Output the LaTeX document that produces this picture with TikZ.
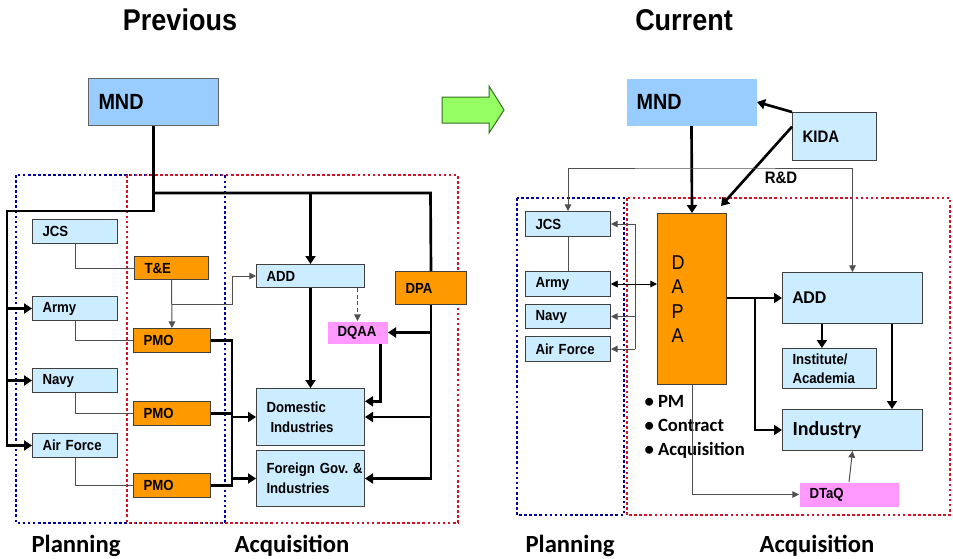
\documentclass[tikz,border=0pt]{standalone}
\usepackage{fontspec}
\setmainfont{Liberation Sans}[FakeStretch=0.9]
\newfontfamily\calibri{Carlito}
\usetikzlibrary{arrows.meta,calc}

\tikzset{every picture/.style={line width=0.75pt}}
\tikzset{
  box/.style={draw={rgb, 255:red, 64; green, 64; blue, 64 }, line width=0.75pt, anchor=north west, align=left, inner xsep=7.5pt, inner ysep=0pt, font=\bfseries\fontsize{11}{15}\selectfont},
  lblue/.style={box, fill={rgb, 255:red, 204; green, 236; blue, 255 }},
  orng/.style={box, fill={rgb, 255:red, 255; green, 153; blue, 0 }},
  pnk/.style={box, draw=none, fill={rgb, 255:red, 255; green, 153; blue, 255 }},
  mndbox/.style={box, fill={rgb, 255:red, 153; green, 204; blue, 255 }, font=\bfseries\fontsize{16.5}{18}\selectfont},
  thickline/.style={line width=2pt},
  thickarrow/.style={line width=2pt, -{Triangle[length=6pt,width=7.5pt]}},
  thinline/.style={line width=0.75pt, draw={rgb, 255:red, 80; green, 80; blue, 80 }},
  thinarrow/.style={thinline, -{Triangle[length=5pt,width=5pt]}},
  thinboth/.style={thinline, {Triangle[length=5pt,width=5pt]}-{Triangle[length=5pt,width=5pt]}},
  dasharrow/.style={thinline, dash pattern=on 3pt off 2pt, -{Triangle[length=5pt,width=5pt]}},
  plandot/.style={draw={rgb, 255:red, 0; green, 0; blue, 160 }, line width=2pt, dash pattern=on 2pt off 1.8pt},
  acqdot/.style={draw={rgb, 255:red, 210; green, 20; blue, 40 }, line width=2pt, dash pattern=on 2pt off 1.8pt},
  title/.style={font=\bfseries\fontsize{22.5}{26}\selectfont},
  part/.style={font=\calibri\bfseries\fontsize{18.5}{22}\selectfont}
}

\begin{document}
\begin{tikzpicture}[x=0.75pt,y=0.75pt,yscale=-1,xscale=1]
\useasboundingbox (0,0) rectangle (953,558);

%Titles
\node[title] (prevTitle) at (180,20) {Previous};
\node[title] (currTitle) at (684,20) {Current};

%Shape: Arrow
\draw[draw={rgb, 255:red, 50; green, 110; blue, 30 }, fill={rgb, 255:red, 150; green, 255; blue, 100 }] (442,97) -- (489,97) -- (489,86) -- (504,110) -- (489,133) -- (489,123) -- (442,123) -- cycle ;

%Dotted frames
\draw[plandot] (16,175) rectangle (225,523) ;
\draw[acqdot] (127,175) rectangle (458,523) ;
\draw[plandot] (517,198) rectangle (624,515) ;
\draw[acqdot] (627,198) rectangle (950,515) ;

\node[part] (planL) at (76,546) {Planning};
\node[part] (acqL) at (292,546) {Acquisition};
\node[part] (planR) at (570,546) {Planning};
\node[part] (acqR) at (817,546) {Acquisition};

%%% Previous
%Shape: Rectangle
\node[mndbox, draw={rgb, 255:red, 100; green, 100; blue, 100 }, text width=82.5pt, minimum height=35.25pt] (MND_L) at (88,78) {MND};
\node[lblue, text width=48.75pt, minimum height=18pt] (JCS_L) at (32,219) {JCS};
\node[lblue, text width=48.75pt, minimum height=18pt] (Army_L) at (32,296) {Army};
\node[lblue, text width=48.75pt, minimum height=18pt] (Navy_L) at (32,368) {Navy};
\node[lblue, text width=48.75pt, minimum height=18pt] (AF_L) at (32,433) {Air Force};
\node[orng, text width=40.5pt, minimum height=17.25pt] (TE) at (134,256) {T\&E};
\node[orng, text width=42.75pt, minimum height=18pt] (PMO1) at (133,328) {PMO};
\node[orng, text width=42.75pt, minimum height=18pt] (PMO2) at (133,401) {PMO};
\node[orng, text width=42.75pt, minimum height=18pt] (PMO3) at (133,473) {PMO};
\node[lblue, text width=66pt, minimum height=17.25pt] (ADD_L) at (256,264) {ADD};
\node[orng, text width=38.25pt, minimum height=24.75pt] (DPA) at (395,271) {DPA};
\node[pnk, text width=30pt, minimum height=16.5pt] (DQAA) at (327,321) {DQAA};
\node[lblue, text width=66pt, minimum height=42.75pt] (Dom) at (256,388) {Domestic\\\hspace*{3pt}Industries};
\node[lblue, text width=66pt, minimum height=42pt] (For) at (256,450) {\mbox{Foreign Gov.\ \&}\\Industries};

\coordinate (spineTop) at (7,211);
\coordinate (busR) at (430.5,193);
\coordinate (pmoBus) at (232,340);

%Straight Lines
\draw[thickarrow] (MND_L.south) |- (spineTop) |- (AF_L.west) ;
\draw[thickarrow] (spineTop |- Army_L.west) -- (Army_L.west) ;
\draw[thickarrow] (spineTop |- Navy_L.west) -- (Navy_L.west) ;
\draw[thickline] (MND_L.south |- busR) -- (busR) -- (DPA.north) ;
\draw[thickarrow] (ADD_L.north |- busR) -- (ADD_L.north) ;
\draw[thickarrow] (DPA.south) |- (For.east) ;
\draw[thickarrow] (DPA.south |- DQAA.east) -- (DQAA.east) ;
\draw[thickarrow] (DPA.south |- Dom.east) -- (Dom.east) ;
\draw[thickarrow] ($(DQAA.south west)!0.88!(DQAA.south east)$) |- ($(Dom.north east)!0.23!(Dom.south east)$) ;
\draw[thickarrow] (ADD_L.south) -- (Dom.north) ;
\draw[dasharrow] (DQAA.north |- ADD_L.south) -- (DQAA.north) ;

\draw[thinline] (JCS_L.south) |- (TE.west) ;
\draw[thinline] (Army_L.south) |- (PMO1.west) ;
\draw[thinline] (Navy_L.south) |- (PMO2.west) ;
\draw[thinline] (AF_L.south) |- (PMO3.west) ;
\draw[thinarrow] (TE.south) -- (PMO1.north) ;
\draw[thinarrow] ($(TE.south)!0.5!(PMO1.north)$) -| (pmoBus |- ADD_L.west) -- (ADD_L.west) ;

\draw[thickline] (PMO1.east) -| (pmoBus |- PMO3.east) -- (PMO3.east) ;
\draw[thickline] (PMO2.east) -- (pmoBus |- PMO2.east) ;
\draw[thickarrow] (pmoBus |- Dom.west) -- (Dom.west) ;
\draw[thickarrow] (pmoBus |- For.west) -- (For.west) ;

%%% Current
%Shape: Rectangle
\node[mndbox, draw=none, text width=82.5pt, minimum height=35.25pt] (MND_R) at (626,78) {MND};
\node[lblue, text width=48pt, minimum height=36pt, font=\bfseries\fontsize{12.5}{14}\selectfont] (KIDA) at (792,112) {KIDA};
\node[orng, text width=30.75pt, inner xsep=10.5pt, minimum height=128.25pt, font=\fontsize{15}{18.4}\selectfont] (DAPA) at (657,213) {D\\A\\P\\A};
\node[lblue, text width=48.75pt, minimum height=18.75pt] (JCS_R) at (525,211) {JCS};
\node[lblue, text width=48.75pt, minimum height=18.75pt] (Army_R) at (525,271) {Army};
\node[lblue, text width=48.75pt, minimum height=18pt] (Navy_R) at (525,304) {Navy};
\node[lblue, text width=48.75pt, minimum height=18.75pt] (AF_R) at (525,336) {Air Force};
\node[lblue, text width=90pt, minimum height=38.25pt, font=\calibri\bfseries\fontsize{13.5}{16}\selectfont] (ADD_R) at (782,272) {ADD};
\node[lblue, text width=55.5pt, minimum height=30pt, font=\bfseries\fontsize{11}{14}\selectfont] (Inst) at (782,348) {Institute/\\Academia};
\node[lblue, text width=90pt, minimum height=30.75pt, font=\calibri\bfseries\fontsize{15}{18}\selectfont] (Industry) at (782,409) {Industry};
\node[pnk, text width=59.25pt, minimum height=18pt] (DTaQ) at (799,482) {DTaQ};

\node[font=\bfseries\fontsize{12.5}{14}\selectfont] (rdLabel) at (781,178) {R\&D};
\node[anchor=north west, align=left, inner sep=0pt, font=\calibri\bfseries\fontsize{14}{18}\selectfont] (tasks) at (644,395) {• PM\\• Contract\\• Acquisition};

\coordinate (rdTop) at (700,168);
\coordinate (brk) at (635,300);
\coordinate (dapaJ) at (755,297.5);
\coordinate (instTop) at ($(Inst.north west)!0.42!(Inst.north east)$);
\coordinate (indTop) at ($(Industry.north west)!0.78!(Industry.north east)$);

%Straight Lines
\draw[thickarrow] (MND_R.south) -- (DAPA.north) ;
\draw[thickarrow] (KIDA.north west) -- (MND_R.east) ;
\draw[thickarrow] ($(KIDA.north west)!0.3!(KIDA.south west)$) -- ($(DAPA.north east)+(-6,-7)$) ;
\draw[thinboth] (JCS_R.north) |- (rdTop) -| (ADD_R.north) ;
\draw[thinline] (JCS_R.south) -- (Army_R.north) ;
\draw[thinline] (brk |- JCS_R.east) -- (brk |- AF_R.east) ;
\draw[thinarrow] (brk |- JCS_R.east) -- (JCS_R.east) ;
\draw[thinarrow] (brk |- Army_R.east) -- (Army_R.east) ;
\draw[thinarrow] (brk |- Navy_R.east) -- (Navy_R.east) ;
\draw[thinarrow] (brk |- AF_R.east) -- (AF_R.east) ;
\draw[thinboth, draw=black] (Army_R.east) -- (Army_R.east -| DAPA.west) ;
\draw[thickarrow] (DAPA.east |- ADD_R.west) -- (ADD_R.west) ;
\draw[thickarrow] (dapaJ) |- (Industry.west) ;
\draw[thickarrow] (instTop |- ADD_R.south) -- (instTop) ;
\draw[thickarrow] (indTop |- ADD_R.south) -- (indTop) ;
\draw[thinarrow] (DTaQ.north) -- (Industry.south) ;
\draw[thinarrow] (DAPA.south) |- (DTaQ.west) ;

\end{tikzpicture}
\end{document}
